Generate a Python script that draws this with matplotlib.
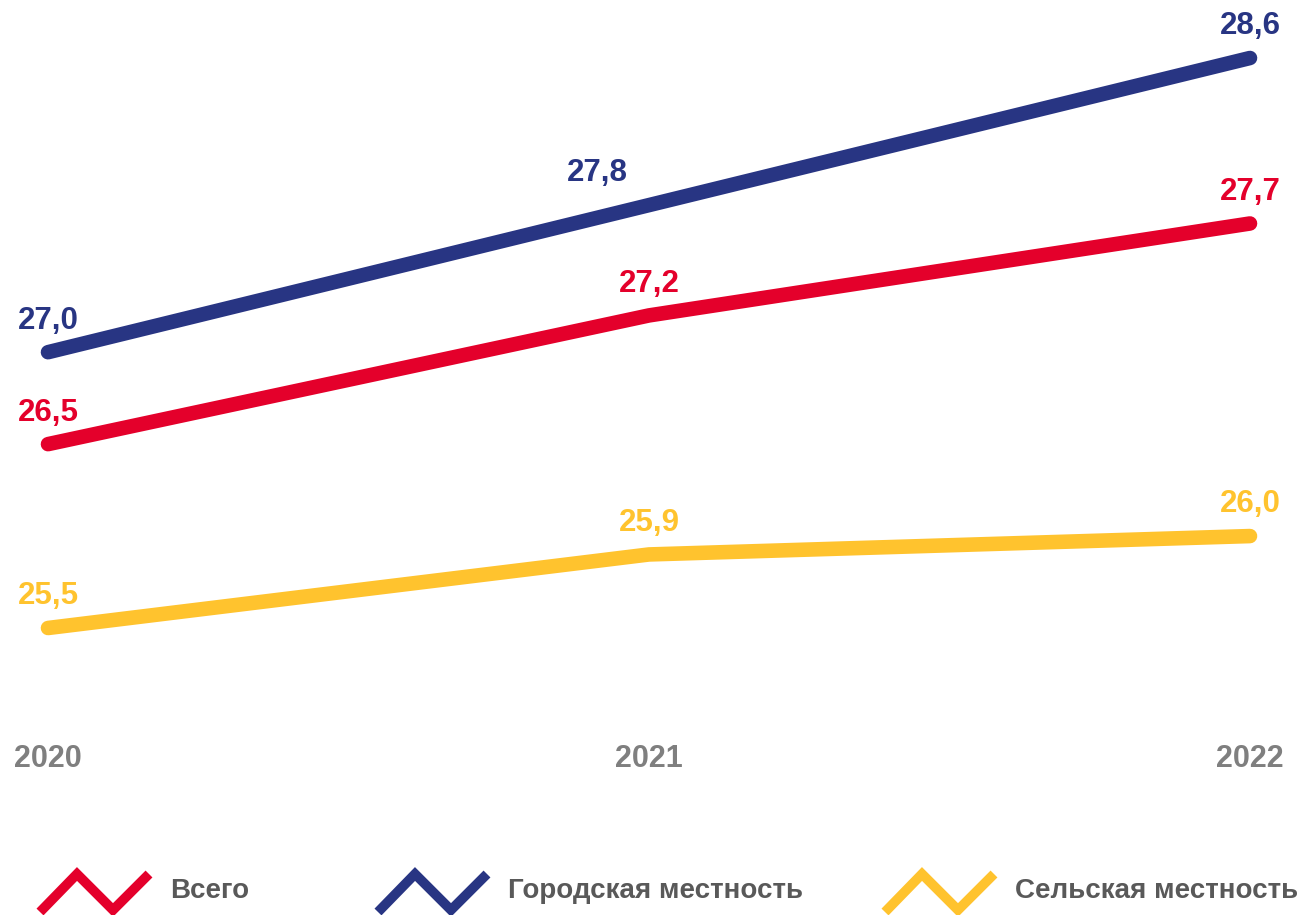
import numpy as np
import matplotlib.pyplot as plt
from matplotlib.lines import Line2D

plt.rcParams['font.family'] = ['Liberation Sans', 'DejaVu Sans']
plt.rcParams['font.weight'] = 'bold'

years = [2020, 2021, 2022]
total = [26.5, 27.2, 27.7]
urban = [27.0, 27.8, 28.6]
rural = [25.5, 25.9, 26.0]
names = ['Всего', 'Городская местность', 'Сельская местность']
colors = ['#E4002B', '#283583', '#FFC32E']

W, H = 1301, 915
fig = plt.figure(figsize=(W / 100, H / 100), dpi=100)

# main axes: 2020 at px 48, 2022 at px 1250; 28.6 at px 58, 25.5 at px 628
ax = fig.add_axes([48 / W, (H - 628) / H, 1202 / W, 570 / H])
ax.set_xlim(2020, 2022)
ax.set_ylim(25.5, 28.6)
ax.axis('off')

series = [total, urban, rural]
for vals, c in zip(series, colors):
    ax.plot(years, vals, color=c, lw=10.5, solid_capstyle='round',
            solid_joinstyle='round', clip_on=False)
    for x, v in zip(years, vals):
        dx = 0
        if vals is urban and x == 2021:
            dx = -37
        ax.annotate(f'{v:.1f}'.replace('.', ','), (x, v), xytext=(dx, 17),
                    textcoords='offset points', ha='center', va='baseline',
                    fontsize=22.5, color=c, fontweight='bold')

# year labels
for x in years:
    ax.annotate(str(x), (x, 25.5), xytext=(0, -94), textcoords='offset points',
                ha='center', va='center', fontsize=22, color='#7F7F7F',
                fontweight='bold')

# legend row
lax = fig.add_axes([0, 0, 1, 1])
lax.set_xlim(0, W)
lax.set_ylim(H, 0)
lax.axis('off')
icon_x = [40, 378, 885]
for x0, name, c in zip(icon_x, names, colors):
    lax.plot([x0, x0 + 37, x0 + 73, x0 + 109], [912, 874, 910, 874],
             color=c, lw=7, solid_joinstyle='miter', solid_capstyle='butt',
             clip_on=False)
    lax.text(x0 + 130, 891, name, ha='left', va='center', fontsize=20,
             color='#595959', fontweight='bold')

fig.savefig('out.png', dpi=100)
